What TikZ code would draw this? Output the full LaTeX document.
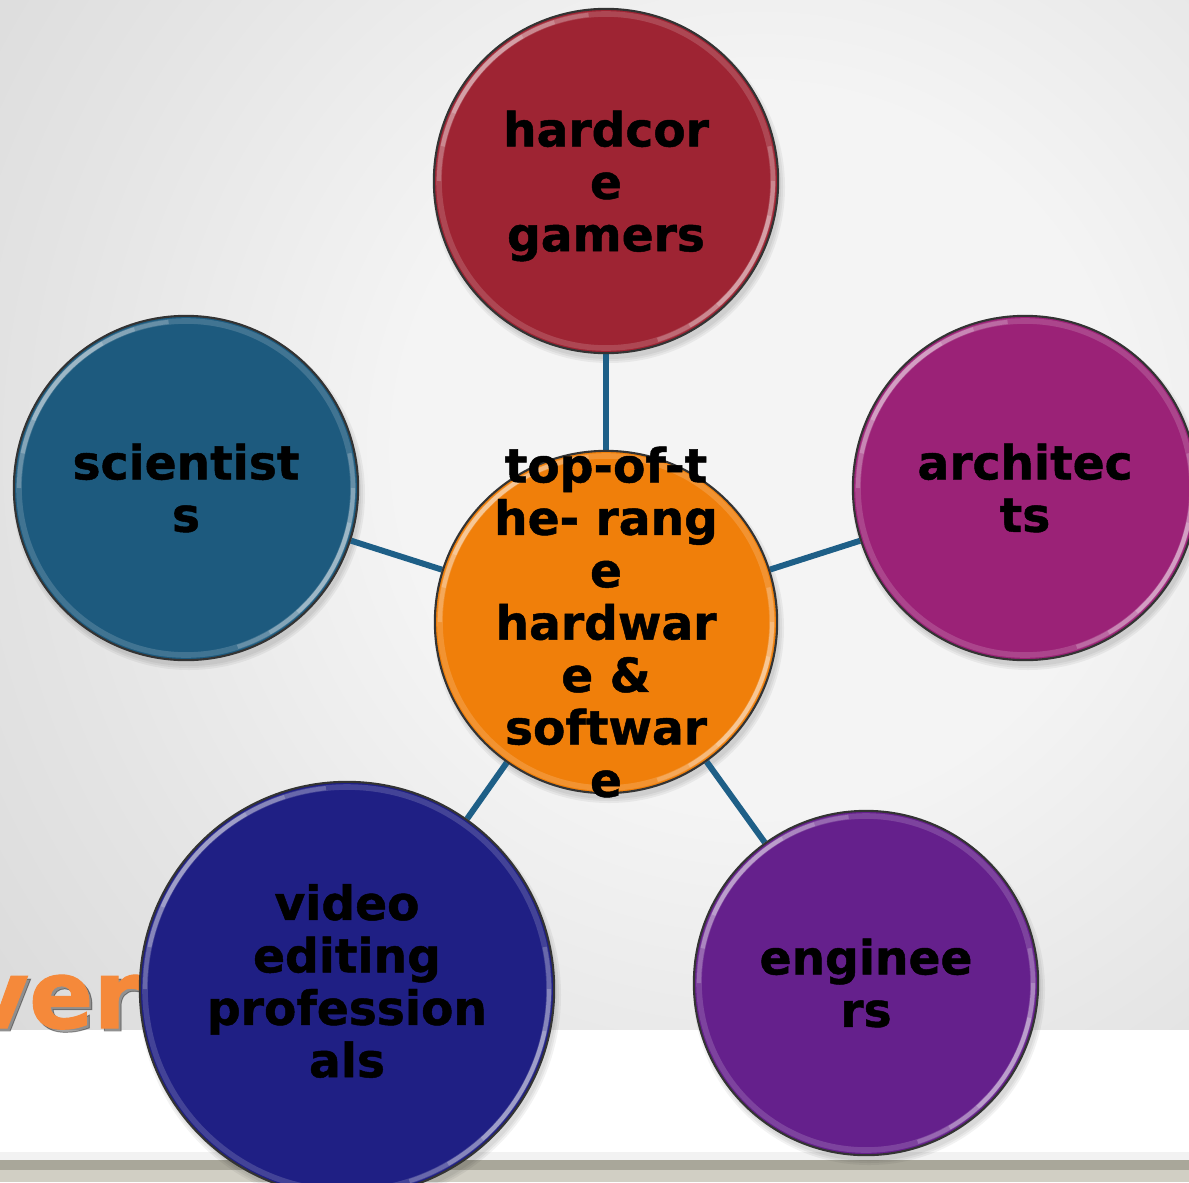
\documentclass[tikz,border=0pt]{standalone}
\usepackage{fontspec}
\setmainfont{DejaVu Sans}[BoldFeatures={FakeBold=1}]
\usepackage{tikz}
\usetikzlibrary{backgrounds}

\definecolor{bglight}{HTML}{F4F4F4}
\definecolor{bgmid}{HTML}{E4E4E4}
\definecolor{bgshade}{HTML}{D0D0D0}
\definecolor{bgdark}{HTML}{BEBEBE}
\definecolor{stripgray}{HTML}{F2F2F2}
\definecolor{stripdark}{HTML}{A9A79A}
\definecolor{striplight}{HTML}{D1CFC4}
\definecolor{gamerred}{HTML}{9E2433}
\definecolor{sciteal}{HTML}{1D5A7E}
\definecolor{archmag}{HTML}{9B2277}
\definecolor{hubor}{HTML}{F07F0A}
\definecolor{videonavy}{HTML}{1F1F84}
\definecolor{engpurple}{HTML}{65208C}
\definecolor{spokeblue}{HTML}{1E5F87}
\definecolor{verorange}{HTML}{F5893A}

% soft glow behind the slide
\pgfdeclareradialshading{slideglow}{\pgfpoint{0bp}{0bp}}{color(0bp)=(bglight); color(10bp)=(bglight); color(20bp)=(bgmid); color(34bp)=(bgshade); color(46bp)=(bgdark); color(50bp)=(bgdark)}

\begin{document}
\begin{tikzpicture}[x=0.01cm, y=-0.01cm,
  bubble/.style 2 args={circle, draw=black!80, line width=0.6pt, fill=#1,
    inner sep=0pt, minimum size=#2*0.02cm,
    path picture={
      \draw[#1!60!white, line width=1.6pt, opacity=.4]
        (path picture bounding box.center) circle[radius=#2-5];
      % glossy rim, brighter towards upper left and lower right
      \foreach \w in {42,30,18}{
        \draw[white, line width=1.2pt, opacity=.2]
          ([shift={(222-\w:#2-5)}]path picture bounding box.center)
          arc[start angle=222-\w, end angle=222+\w, radius=#2-5];
        \draw[white, line width=1.2pt, opacity=.2]
          ([shift={(30-\w:#2-5)}]path picture bounding box.center)
          arc[start angle=30-\w, end angle=30+\w, radius=#2-5];
      }
    }},
  spoke/.style={draw=spokeblue, line width=1.7pt},
  word/.style={font=\fontsize{13.4}{14.9}\selectfont\bfseries, align=center, inner sep=0pt},
  banner/.style={font=\fontsize{27}{30}\selectfont\bfseries, anchor=base east, inner sep=0pt}
]
\useasboundingbox (0,0) rectangle (1189,1182);

% bubbles
\node[bubble={hubor}{171}]     (hub)        at (606,622) {};
\node[bubble={gamerred}{172}]  (gamers)     at (606,181) {};
\node[bubble={sciteal}{172}]   (scientists) at (186,488) {};
\node[bubble={archmag}{172}]   (architects) at (1025,488) {};
\node[bubble={videonavy}{207}] (editors)    at (347,989) {};
\node[bubble={engpurple}{172}] (engineers)  at (866,983) {};

% labels
\node[word] (hub-txt)        at (hub)        {top-of-t\\he- rang\\e\\hardwar\\e \&\\softwar\\e};
\node[word] (gamers-txt)     at (606,186)    {hardcor\\e\\gamers};
\node[word] (scientists-txt) at (scientists) {scientist\\s};
\node[word] (architects-txt) at (architects) {architec\\ts};
\node[word] (editors-txt)    at (347,981)    {video\\editing\\profession\\als};
\node[word] (engineers-txt)  at (engineers)  {enginee\\rs};

\begin{scope}[on background layer]
  \begin{scope}
    \clip (0,0) rectangle (1189,1030);
    \shade[shading=slideglow] (-140,-450) rectangle (1660,1350);
  \end{scope}
  \fill[white]      (0,1030) rectangle (1189,1152);
  \fill[stripgray]  (0,1152) rectangle (1189,1160);
  \fill[stripdark]  (0,1160) rectangle (1189,1170);
  \fill[striplight] (0,1170) rectangle (1189,1182);
  \node[banner, text=black, opacity=.35] (title-shadow) at (144,1031) {ver};
  \node[banner, text=verorange] (title) at (141,1028) {ver};
  % drop shadows under the bubbles
  \foreach \n/\r in {hub/171,gamers/172,scientists/172,architects/172,editors/207,engineers/172}
    \foreach \d in {4,2,0}
      \fill[black, opacity=.05] ([shift={(3,6)}]\n.center) circle[radius=\r+\d];
  \foreach \n in {gamers,scientists,architects,editors,engineers}
    \draw[spoke] (hub) -- (\n);
\end{scope}
\end{tikzpicture}
\end{document}
